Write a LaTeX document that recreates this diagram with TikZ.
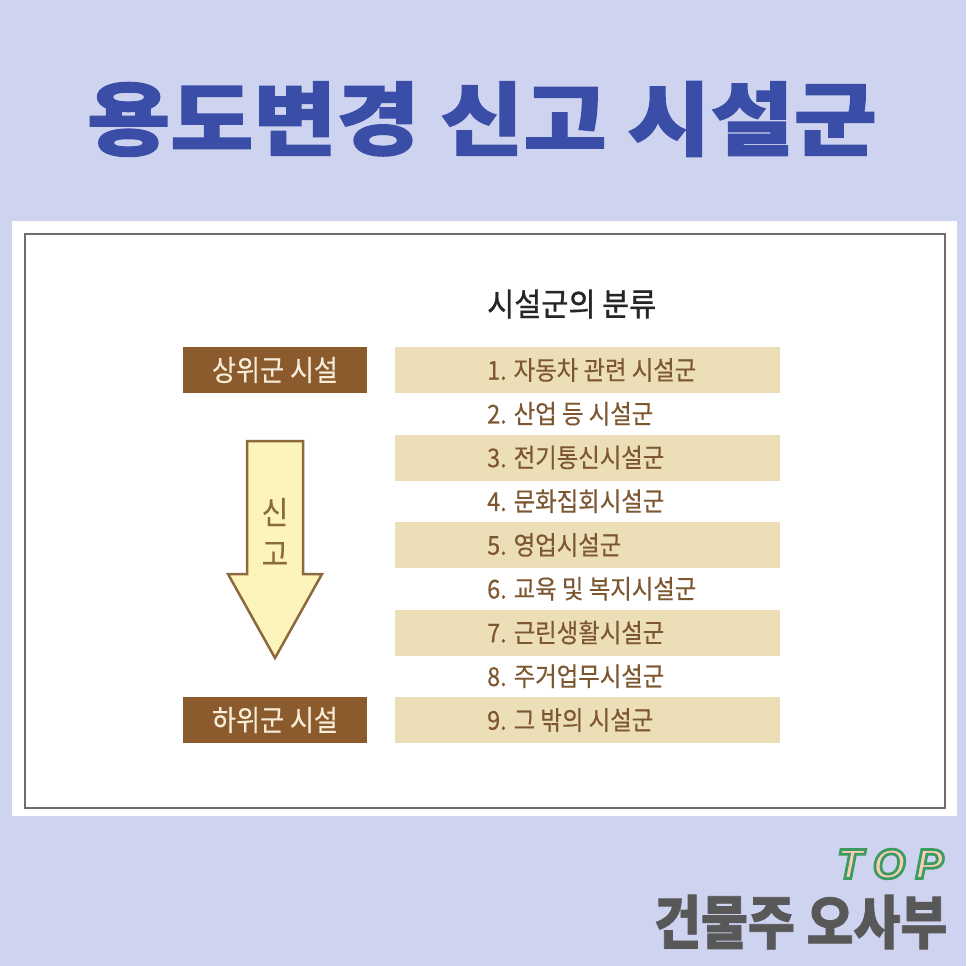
\documentclass[tikz,border=0pt]{standalone}
\usepackage{fontspec}
\newfontfamily\titlefont{Noto Sans CJK KR}[FakeStretch=1.13, FakeBold=1.6]
\newfontfamily\krnarrow{Noto Sans CJK KR}[FakeStretch=0.9, FakeBold=0.3]
\newfontfamily\krhead{Noto Sans CJK KR}[FakeStretch=0.92, FakeBold=1]
\newfontfamily\krfoot{Noto Sans CJK KR}[FakeStretch=0.88, FakeBold=1.2]
\newfontfamily\topfont{Liberation Sans}[FakeBold=6.5]
\definecolor{lavender}{RGB}{206,211,240}
\definecolor{titleblue}{RGB}{58,78,168}
\definecolor{framegray}{RGB}{110,110,110}
\definecolor{boxbrown}{RGB}{139,90,45}
\definecolor{boxtext}{RGB}{246,236,216}
\definecolor{bandbeige}{RGB}{236,223,183}
\definecolor{rowbrown}{RGB}{125,87,48}
\definecolor{arrowfill}{RGB}{252,244,186}
\definecolor{arrowline}{RGB}{140,105,62}
\definecolor{footgray}{RGB}{88,88,88}
\definecolor{toppeach}{RGB}{248,205,185}
\tikzset{
  levelbox/.style={fill=boxbrown, text=boxtext, minimum width=184pt, minimum height=46pt,
    inner sep=0pt, font=\krnarrow\fontsize{29}{29}\selectfont},
  band/.style={fill=bandbeige, minimum width=385pt, minimum height=46pt, inner sep=0pt},
  rowtext/.style={anchor=west, text=rowbrown, inner sep=0pt, font=\krnarrow\fontsize{26}{26}\selectfont},
}
\begin{document}
\begin{tikzpicture}[x=1pt,y=-1pt]
  \def\rowx{487}    % left edge of the item texts
  \def\rowy{370}    % centre of the first row
  \def\rowgap{43.75} % vertical gap between rows

  % background and white panel
  \fill[lavender] (0,0) rectangle (966,966);
  \useasboundingbox (0,0) rectangle (966,966);
  \fill[white] (12,221) rectangle (957,816);
  \draw[framegray, line width=1.5pt] (25,234) rectangle (945,808);

  % title
  \node[text=titleblue, font=\titlefont\bfseries\fontsize{80}{80}\selectfont] (title) at (482,119) {용도변경 신고 시설군};

  % left side
  \node[levelbox] (upper) at (275,370) {상위군 시설};
  \node[levelbox] (lower) at (275,720) {하위군 시설};
  \draw[arrowline, fill=arrowfill, line width=2.5pt, line join=miter]
    (247,441) -- (303,441) -- (303,574) -- (322,574) -- (275,658)
    -- (228,574) -- (247,574) -- cycle;
  \node[text=arrowline, font=\krnarrow\fontsize{32}{32}\selectfont] (sin) at (275,512) {신};
  \node[text=arrowline, font=\krnarrow\fontsize{32}{32}\selectfont] (go) at (275,554) {고};

  % right side
  \node[anchor=west, text=black!85, inner sep=0pt, font=\krhead\fontsize{32}{32}\selectfont] (heading) at (\rowx,304) {시설군의 분류};
  \foreach \i/\txt in {1/{자동차 관련 시설군}, 2/{산업 등 시설군}, 3/{전기통신시설군},
      4/{문화집회시설군}, 5/{영업시설군}, 6/{교육 및 복지시설군},
      7/{근린생활시설군}, 8/{주거업무시설군}, 9/{그 밖의 시설군}} {
    \pgfmathsetmacro{\y}{\rowy + (\i-1)*\rowgap}
    \ifodd\i
      \node[band] (band\i) at (587.5,\y) {};
    \fi
    \node[rowtext] (row\i) at (\rowx,\y) {\i. \txt};
  }

  % footer: peach letters, green stroke
  \node[anchor=east, text=toppeach, font=\topfont\bfseries\itshape\fontsize{42}{42}\selectfont] (top) at (947,864)
    {\special{pdf:literal direct 0.235 0.608 0.373 RG}T\hspace{10pt}O\hspace{10pt}P};
  \node[anchor=east, text=footgray, font=\krfoot\bfseries\fontsize{58}{58}\selectfont] (brand) at (951,922) {건물주 오사부};
\end{tikzpicture}
\end{document}
